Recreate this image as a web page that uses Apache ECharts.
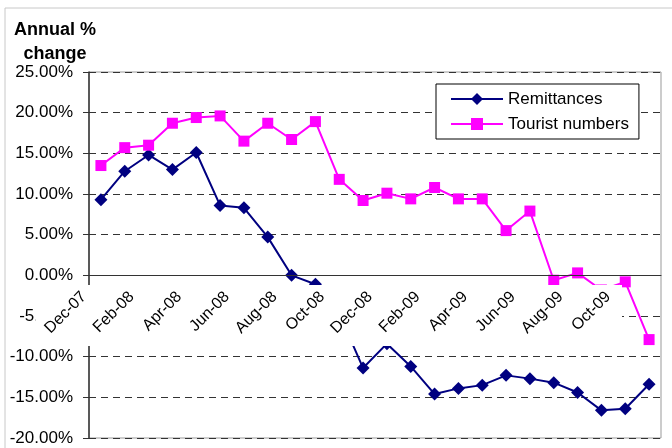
<!DOCTYPE html>
<html>
<head>
<meta charset="utf-8">
<script src="https://cdn.jsdelivr.net/npm/echarts@6/dist/echarts.min.js"></script>
<style>
  html, body { margin: 0; padding: 0; background: #fff; }
  #chart { width: 672px; height: 448px; }
</style>
</head>
<body>
<div id="chart"></div>
<script>
// monthly, Dec-07 .. Nov-09
var months = ['Dec-07','Jan-08','Feb-08','Mar-08','Apr-08','May-08','Jun-08','Jul-08','Aug-08','Sep-08','Oct-08','Nov-08',
              'Dec-08','Jan-09','Feb-09','Mar-09','Apr-09','May-09','Jun-09','Jul-09','Aug-09','Sep-09','Oct-09','Nov-09'];
var remittances = [9.3, 12.8, 14.8, 13.0, 15.1, 8.6, 8.3, 4.7, 0.0, -1.1, -4.7, -11.4,
                   -8.4, -11.2, -14.6, -13.9, -13.5, -12.3, -12.7, -13.2, -14.4, -16.6, -16.4, -13.4];
var tourists = [13.5, 15.7, 16.0, 18.7, 19.4, 19.6, 16.5, 18.7, 16.7, 18.9, 11.8, 9.2,
                10.1, 9.4, 10.8, 9.4, 9.4, 5.5, 7.9, -0.6, 0.3, -1.8, -0.8, -7.9];
var yMin = -20, yMax = 25, yStep = 5;

var font = 'Liberation Sans, Arial, sans-serif';
var gridTop = 72, gridBottom = 10, chartH = 448;
// pixel distance from plot bottom up to the 0% line
var plotH = chartH - gridTop - gridBottom;
var zeroLift = plotH * (0 - yMin) / (yMax - yMin);

var myChart = echarts.init(document.getElementById('chart'));

var option = {
  animation: false,
  grid: {
    left: 89, right: 11, top: gridTop, bottom: gridBottom,
    containLabel: false, outerBoundsMode: 'none',
    show: true, borderColor: '#999', borderWidth: 1
  },
  legend: {
    orient: 'vertical',
    left: 436, top: 84,
    padding: [5, 10, 5, 14],
    itemGap: 5,
    itemWidth: 52, itemHeight: 15,
    backgroundColor: '#fff',
    borderColor: '#000', borderWidth: 1,
    textStyle: { fontFamily: font, fontSize: 17, color: '#000', lineHeight: 20 },
    data: ['Remittances', 'Tourist numbers']
  },
  xAxis: {
    type: 'category',
    data: months,
    z: 10,
    position: 'bottom',
    offset: -zeroLift,
    axisLine: { onZero: false, lineStyle: { color: '#333', width: 1 } },
    axisTick: { interval: 0, length: 6, lineStyle: { color: '#333' } },
    axisLabel: {
      interval: 1, rotate: 45, margin: 2,
      padding: [0, 24, 0, 0],
      fontFamily: font, fontSize: 16, color: '#000'
    },
    splitLine: { show: false }
  },
  yAxis: {
    type: 'value',
    min: yMin, max: yMax, interval: yStep,
    axisLine: { show: true, lineStyle: { color: '#333', width: 1.5 } },
    axisTick: { show: true, length: 6, lineStyle: { color: '#333' } },
    axisLabel: {
      margin: 16, fontFamily: font, fontSize: 17, color: '#000',
      formatter: function (v) { return v.toFixed(2) + '%'; }
    },
    splitLine: { lineStyle: { color: '#333', type: [7, 5], width: 1 } }
  },
  graphic: [
    { type: 'rect', z: 0, shape: { x: 5, y: 8, width: 700, height: 500 },
      style: { fill: 'none', stroke: '#c8c8c8', lineWidth: 1 } },
    // white band behind the date labels
    { type: 'rect', z: 5, shape: { x: 36, y: 285, width: 586, height: 61 },
      style: { fill: '#fff' } },
    { type: 'text', z: 5, x: 55, y: 18,
      style: { text: 'Annual %\nchange', textAlign: 'center', textVerticalAlign: 'top',
               font: 'bold 18px ' + font, lineHeight: 24, fill: '#000' } }
  ],
  series: [
    {
      name: 'Remittances', type: 'line',
      data: remittances,
      symbol: 'diamond', symbolSize: 13,
      itemStyle: { color: '#000080' },
      lineStyle: { color: '#000080', width: 2 }
    },
    {
      name: 'Tourist numbers', type: 'line',
      data: tourists,
      symbol: 'rect', symbolSize: 11,
      itemStyle: { color: '#ff00ff' },
      lineStyle: { color: '#ff00ff', width: 2 }
    }
  ]
};
myChart.setOption(option);
</script>
</body>
</html>
